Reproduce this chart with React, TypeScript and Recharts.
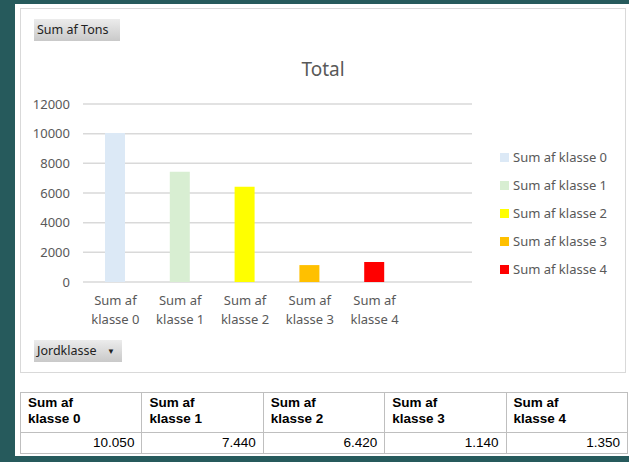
import { Bar, BarChart, CartesianGrid, Cell, XAxis, YAxis } from "recharts";

const categories = [
  "Sum af klasse 0",
  "Sum af klasse 1",
  "Sum af klasse 2",
  "Sum af klasse 3",
  "Sum af klasse 4",
];
const tons = [10050, 7440, 6420, 1140, 1350];
const barColors = ["#dce9f6", "#d8eed2", "#ffff00", "#ffc000", "#ff0000"];
const yTicks = [0, 2000, 4000, 6000, 8000, 10000, 12000];

const FONT = "'Noto Sans', 'Open Sans', sans-serif";
const GREY = "#595959";

// Danish number format: 10050 -> "10.050"
const fmt = (v: number) => String(v).replace(/\B(?=(\d{3})+(?!\d))/g, ".");

function CategoryTick({ x, y, payload }: any) {
  const label: string = payload.value;
  const first = label.slice(0, 6);
  const second = label.slice(7);
  return (
    <text x={x} y={y} textAnchor="middle" fill={GREY} fontSize={13} fontFamily={FONT}>
      <tspan x={x} dy={23}>
        {first}
      </tspan>
      <tspan x={x} dy={19}>
        {second}
      </tspan>
    </text>
  );
}

const buttonStyle: React.CSSProperties = {
  position: "absolute",
  height: 22,
  boxSizing: "border-box",
  background: "linear-gradient(#ececec, #c9c9c9)",
  fontFamily: FONT,
  fontSize: 12.5,
  color: "#222",
  lineHeight: "22px",
  paddingLeft: 3,
};

export default function App() {
  const data = categories.map((name, i) => ({ name, value: tons[i] }));

  return (
    <div
      style={{
        position: "fixed",
        left: 0,
        top: 0,
        width: 629,
        height: 462,
        background: "#265a5c",
        overflow: "hidden",
      }}
    >
      {/* white sheet */}
      <div
        style={{
          position: "absolute",
          left: 15,
          top: 4,
          width: 614,
          height: 452,
          background: "#ffffff",
        }}
      />
      {/* chart panel */}
      <div
        style={{
          position: "absolute",
          left: 20,
          top: 8,
          width: 606,
          height: 365,
          boxSizing: "border-box",
          border: "1.5px solid #d9d9d9",
          background: "#ffffff",
        }}
      />

      <div style={{ ...buttonStyle, left: 34, top: 19, width: 86 }}>Sum af Tons</div>
      <div style={{ ...buttonStyle, left: 34, top: 340, width: 88 }}>
        Jordklasse
        <span style={{ position: "absolute", left: 73, top: 0, fontSize: 8 }}>▼</span>
      </div>

      <div
        style={{
          position: "absolute",
          left: 20,
          width: 606,
          top: 56,
          textAlign: "center",
          fontFamily: FONT,
          fontSize: 19,
          color: GREY,
        }}
      >
        Total
      </div>

      <div style={{ position: "absolute", left: 0, top: 0 }}>
        <BarChart
          width={629}
          height={462}
          data={data}
          margin={{ top: 104, right: 157, bottom: 140, left: 23 }}
        >
          <CartesianGrid vertical={false} stroke="#d9d9d9" strokeWidth={1.5} />
          <XAxis
            dataKey="name"
            axisLine={false}
            tickLine={false}
            tickSize={0}
            tickMargin={0}
            height={40}
            padding={{ left: 0, right: 65 }}
            interval={0}
            tick={<CategoryTick />}
          />
          <YAxis
            width={60}
            domain={[0, 12000]}
            ticks={yTicks}
            axisLine={false}
            tickLine={false}
            tickSize={0}
            tickMargin={13}
            tick={{ fill: GREY, fontSize: 13, fontFamily: FONT }}
          />
          <Bar dataKey="value" barSize={20} isAnimationActive={false}>
            {data.map((d, i) => (
              <Cell key={d.name} fill={barColors[i]} />
            ))}
          </Bar>
        </BarChart>
      </div>

      {/* legend */}
      <div style={{ position: "absolute", left: 500, top: 148 }}>
        {categories.map((c, i) => (
          <div
            key={c}
            style={{
              height: 28,
              display: "flex",
              alignItems: "flex-start",
              fontFamily: FONT,
              fontSize: 13,
              color: GREY,
              lineHeight: "18px",
            }}
          >
            <span
              style={{
                display: "inline-block",
                width: 9,
                height: 9,
                background: barColors[i],
                marginTop: 5,
                marginRight: 4,
              }}
            />
            {c}
          </div>
        ))}
      </div>

      {/* data table */}
      <table
        style={{
          position: "absolute",
          left: 20,
          top: 392,
          width: 608,
          borderCollapse: "collapse",
          tableLayout: "fixed",
          fontFamily: "'Liberation Sans', Arial, sans-serif",
          color: "#000",
        }}
      >
        <tbody>
          <tr style={{ height: 40 }}>
            {categories.map((c) => (
              <td
                key={c}
                style={{
                  border: "1.5px solid #bfbfbf",
                  fontWeight: "bold",
                  fontSize: 13.5,
                  lineHeight: "16px",
                  padding: "2px 7px",
                  verticalAlign: "top",
                }}
              >
                {c.slice(0, 6)}
                <br />
                {c.slice(7)}
              </td>
            ))}
          </tr>
          <tr style={{ height: 21 }}>
            {tons.map((v, i) => (
              <td
                key={i}
                style={{
                  border: "1.5px solid #bfbfbf",
                  fontSize: 13.5,
                  lineHeight: "18px",
                  padding: "0 7px",
                  textAlign: "right",
                }}
              >
                {fmt(v)}
              </td>
            ))}
          </tr>
        </tbody>
      </table>
    </div>
  );
}
